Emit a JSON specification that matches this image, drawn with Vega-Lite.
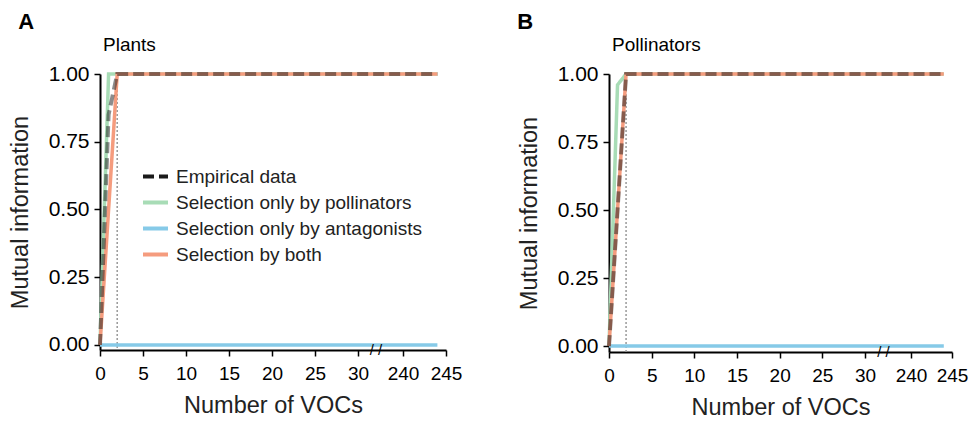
{
  "$schema": "https://vega.github.io/schema/vega-lite/v6.json",
  "padding": {"left": 8, "top": 11, "right": 5, "bottom": 2},
  "config": {
    "font": "Liberation Sans",
    "view": {"stroke": null},
    "axis": {"domainColor": "black", "domainWidth": 2, "tickColor": "black", "tickWidth": 1.5, "tickSize": 6, "labelFontSize": 19, "labelColor": "black", "titleFontSize": 23.5, "titleFontWeight": "normal", "titleColor": "#222", "grid": false, "labelFont": "Liberation Sans", "titleFont": "Liberation Sans"}
  },
  "datasets": {
    "plants": [
      {"series": "Empirical data", "voc": 0, "mi": 0}, {"series": "Empirical data", "voc": 1, "mi": 0.85}, {"series": "Empirical data", "voc": 2, "mi": 1}, {"series": "Empirical data", "voc": 3, "mi": 1}, {"series": "Empirical data", "voc": 4, "mi": 1}, {"series": "Empirical data", "voc": 5, "mi": 1}, {"series": "Empirical data", "voc": 10, "mi": 1}, {"series": "Empirical data", "voc": 20, "mi": 1}, {"series": "Empirical data", "voc": 30, "mi": 1}, {"series": "Empirical data", "voc": 240, "mi": 1}, {"series": "Empirical data", "voc": 244, "mi": 1},
      {"series": "Selection only by pollinators", "voc": 0, "mi": 0}, {"series": "Selection only by pollinators", "voc": 1, "mi": 1}, {"series": "Selection only by pollinators", "voc": 2, "mi": 1}, {"series": "Selection only by pollinators", "voc": 3, "mi": 1}, {"series": "Selection only by pollinators", "voc": 4, "mi": 1}, {"series": "Selection only by pollinators", "voc": 5, "mi": 1}, {"series": "Selection only by pollinators", "voc": 10, "mi": 1}, {"series": "Selection only by pollinators", "voc": 20, "mi": 1}, {"series": "Selection only by pollinators", "voc": 30, "mi": 1}, {"series": "Selection only by pollinators", "voc": 240, "mi": 1}, {"series": "Selection only by pollinators", "voc": 244, "mi": 1},
      {"series": "Selection only by antagonists", "voc": 0, "mi": 0}, {"series": "Selection only by antagonists", "voc": 1, "mi": 0}, {"series": "Selection only by antagonists", "voc": 2, "mi": 0}, {"series": "Selection only by antagonists", "voc": 3, "mi": 0}, {"series": "Selection only by antagonists", "voc": 4, "mi": 0}, {"series": "Selection only by antagonists", "voc": 5, "mi": 0}, {"series": "Selection only by antagonists", "voc": 10, "mi": 0}, {"series": "Selection only by antagonists", "voc": 20, "mi": 0}, {"series": "Selection only by antagonists", "voc": 30, "mi": 0}, {"series": "Selection only by antagonists", "voc": 240, "mi": 0}, {"series": "Selection only by antagonists", "voc": 244, "mi": 0},
      {"series": "Selection by both", "voc": 0, "mi": 0}, {"series": "Selection by both", "voc": 1, "mi": 0.5}, {"series": "Selection by both", "voc": 2, "mi": 1}, {"series": "Selection by both", "voc": 3, "mi": 1}, {"series": "Selection by both", "voc": 4, "mi": 1}, {"series": "Selection by both", "voc": 5, "mi": 1}, {"series": "Selection by both", "voc": 10, "mi": 1}, {"series": "Selection by both", "voc": 20, "mi": 1}, {"series": "Selection by both", "voc": 30, "mi": 1}, {"series": "Selection by both", "voc": 240, "mi": 1}, {"series": "Selection by both", "voc": 244, "mi": 1}
    ],
    "pollinators": [
      {"series": "Empirical data", "voc": 0, "mi": 0}, {"series": "Empirical data", "voc": 1, "mi": 0.5}, {"series": "Empirical data", "voc": 2, "mi": 1}, {"series": "Empirical data", "voc": 3, "mi": 1}, {"series": "Empirical data", "voc": 4, "mi": 1}, {"series": "Empirical data", "voc": 5, "mi": 1}, {"series": "Empirical data", "voc": 10, "mi": 1}, {"series": "Empirical data", "voc": 20, "mi": 1}, {"series": "Empirical data", "voc": 30, "mi": 1}, {"series": "Empirical data", "voc": 240, "mi": 1}, {"series": "Empirical data", "voc": 244, "mi": 1},
      {"series": "Selection only by pollinators", "voc": 0, "mi": 0}, {"series": "Selection only by pollinators", "voc": 1, "mi": 0.96}, {"series": "Selection only by pollinators", "voc": 2, "mi": 1}, {"series": "Selection only by pollinators", "voc": 3, "mi": 1}, {"series": "Selection only by pollinators", "voc": 4, "mi": 1}, {"series": "Selection only by pollinators", "voc": 5, "mi": 1}, {"series": "Selection only by pollinators", "voc": 10, "mi": 1}, {"series": "Selection only by pollinators", "voc": 20, "mi": 1}, {"series": "Selection only by pollinators", "voc": 30, "mi": 1}, {"series": "Selection only by pollinators", "voc": 240, "mi": 1}, {"series": "Selection only by pollinators", "voc": 244, "mi": 1},
      {"series": "Selection only by antagonists", "voc": 0, "mi": 0}, {"series": "Selection only by antagonists", "voc": 1, "mi": 0}, {"series": "Selection only by antagonists", "voc": 2, "mi": 0}, {"series": "Selection only by antagonists", "voc": 3, "mi": 0}, {"series": "Selection only by antagonists", "voc": 4, "mi": 0}, {"series": "Selection only by antagonists", "voc": 5, "mi": 0}, {"series": "Selection only by antagonists", "voc": 10, "mi": 0}, {"series": "Selection only by antagonists", "voc": 20, "mi": 0}, {"series": "Selection only by antagonists", "voc": 30, "mi": 0}, {"series": "Selection only by antagonists", "voc": 240, "mi": 0}, {"series": "Selection only by antagonists", "voc": 244, "mi": 0},
      {"series": "Selection by both", "voc": 0, "mi": 0}, {"series": "Selection by both", "voc": 1, "mi": 0.5}, {"series": "Selection by both", "voc": 2, "mi": 1}, {"series": "Selection by both", "voc": 3, "mi": 1}, {"series": "Selection by both", "voc": 4, "mi": 1}, {"series": "Selection by both", "voc": 5, "mi": 1}, {"series": "Selection by both", "voc": 10, "mi": 1}, {"series": "Selection by both", "voc": 20, "mi": 1}, {"series": "Selection by both", "voc": 30, "mi": 1}, {"series": "Selection by both", "voc": 240, "mi": 1}, {"series": "Selection by both", "voc": 244, "mi": 1}
    ],
    "threshold": [{"voc": 2}],
    "axisbreak": [{"mark": "/ /"}]
  },
  "spacing": 55,
  "resolve": {"legend": {"color": "independent", "strokeDash": "independent"}},
  "hconcat": [
    {
      "title": {"text": "A", "anchor": "start", "frame": "bounds", "fontSize": 22, "fontWeight": "bold", "color": "black", "offset": 2, "dx": 10},
      "resolve": {"legend": {"color": "independent", "strokeDash": "independent"}},
      "vconcat": [
        {
          "width": 346, "height": 276,
          "title": {"text": "Plants", "anchor": "start", "frame": "group", "fontSize": 19, "fontWeight": "normal", "color": "black", "offset": 8, "dx": 3},
          "layer": [
            {
              "data": {"name": "threshold"},
              "mark": {"type": "rule", "stroke": "#999999", "strokeDash": [2, 2], "strokeWidth": 1.5},
              "encoding": {"x": {"field": "voc", "type": "quantitative", "scale": {"domain": [0, 30, 240, 245], "range": [0, 258, 303, 346], "nice": false, "zero": false}}}
            },
            {
              "data": {"name": "plants"},
              "transform": [{"filter": "datum.series !== 'Empirical data'"}],
              "mark": {"type": "line", "strokeWidth": 3.5},
              "encoding": {
                "x": {"field": "voc", "type": "quantitative", "scale": {"domain": [0, 30, 240, 245], "range": [0, 258, 303, 346], "nice": false, "zero": false}, "axis": {"values": [0, 5, 10, 15, 20, 25, 30, 240, 245], "title": "Number of VOCs", "labelPadding": 8, "titlePadding": 10, "labelFlush": false}},
                "y": {"field": "mi", "type": "quantitative", "scale": {"domain": [-0.0185, 1], "nice": false, "zero": false}, "axis": {"values": [0, 0.25, 0.5, 0.75, 1], "format": ".2f", "title": "Mutual information", "labelFontSize": 21, "labelPadding": 5, "titlePadding": 16}},
                "color": {"field": "series", "type": "nominal", "scale": {"domain": ["Empirical data", "Selection only by pollinators", "Selection only by antagonists", "Selection by both"], "range": ["#1a1a1a", "#a8dcb6", "#86cae8", "#f59c7e"]}, "legend": {"orient": "none", "legendX": 41, "legendY": 88, "title": null, "labelFontSize": 19, "labelColor": "#222", "labelLimit": 0, "symbolType": "stroke", "symbolSize": 625, "symbolStrokeWidth": 4, "rowPadding": 1, "labelOffset": 6, "padding": 0}},
                "strokeDash": {"field": "series", "type": "nominal", "scale": {"domain": ["Empirical data", "Selection only by pollinators", "Selection only by antagonists", "Selection by both"], "range": [[11, 5], [1, 0], [1, 0], [1, 0]]}, "legend": {"orient": "none", "legendX": 41, "legendY": 88, "title": null, "labelFontSize": 19, "labelColor": "#222", "labelLimit": 0, "symbolType": "stroke", "symbolSize": 625, "symbolStrokeWidth": 4, "rowPadding": 1, "labelOffset": 6, "padding": 0}}
              }
            },
            {
              "data": {"name": "plants"},
              "transform": [{"filter": "datum.series === 'Empirical data'"}],
              "mark": {"type": "line", "strokeWidth": 4, "strokeOpacity": 0.5},
              "encoding": {
                "x": {"field": "voc", "type": "quantitative"},
                "y": {"field": "mi", "type": "quantitative"},
                "color": {"field": "series", "type": "nominal"},
                "strokeDash": {"field": "series", "type": "nominal"}
              }
            },
            {
              "data": {"name": "axisbreak"},
              "mark": {"type": "text", "fontSize": 15, "color": "black", "baseline": "middle", "align": "center"},
              "encoding": {"text": {"field": "mark"}, "x": {"datum": 114, "type": "quantitative"}, "y": {"datum": -0.0185, "type": "quantitative"}}
            }
          ]
        }
      ]
    },
    {
      "title": {"text": "B", "anchor": "start", "frame": "bounds", "fontSize": 22, "fontWeight": "bold", "color": "black", "offset": 2, "dx": 0},
      "resolve": {"legend": {"color": "independent", "strokeDash": "independent"}},
      "vconcat": [
        {
          "width": 343, "height": 278,
          "title": {"text": "Pollinators", "anchor": "start", "frame": "group", "fontSize": 19, "fontWeight": "normal", "color": "black", "offset": 8, "dx": 3},
          "layer": [
            {
              "data": {"name": "threshold"},
              "mark": {"type": "rule", "stroke": "#999999", "strokeDash": [2, 2], "strokeWidth": 1.5},
              "encoding": {"x": {"field": "voc", "type": "quantitative", "scale": {"domain": [0, 30, 240, 245], "range": [0, 256, 302, 343], "nice": false, "zero": false}}}
            },
            {
              "data": {"name": "pollinators"},
              "transform": [{"filter": "datum.series !== 'Empirical data'"}],
              "mark": {"type": "line", "strokeWidth": 3.5},
              "encoding": {
                "x": {"field": "voc", "type": "quantitative", "scale": {"domain": [0, 30, 240, 245], "range": [0, 256, 302, 343], "nice": false, "zero": false}, "axis": {"values": [0, 5, 10, 15, 20, 25, 30, 240, 245], "title": "Number of VOCs", "labelPadding": 8, "titlePadding": 10, "labelFlush": false}},
                "y": {"field": "mi", "type": "quantitative", "scale": {"domain": [-0.022, 1], "nice": false, "zero": false}, "axis": {"values": [0, 0.25, 0.5, 0.75, 1], "format": ".2f", "title": "Mutual information", "labelFontSize": 21, "labelPadding": 5, "titlePadding": 16}},
                "color": {"field": "series", "type": "nominal", "scale": {"domain": ["Empirical data", "Selection only by pollinators", "Selection only by antagonists", "Selection by both"], "range": ["#1a1a1a", "#a8dcb6", "#86cae8", "#f59c7e"]}, "legend": null},
                "strokeDash": {"field": "series", "type": "nominal", "scale": {"domain": ["Empirical data", "Selection only by pollinators", "Selection only by antagonists", "Selection by both"], "range": [[11, 5], [1, 0], [1, 0], [1, 0]]}, "legend": null}
              }
            },
            {
              "data": {"name": "pollinators"},
              "transform": [{"filter": "datum.series === 'Empirical data'"}],
              "mark": {"type": "line", "strokeWidth": 4, "strokeOpacity": 0.5},
              "encoding": {
                "x": {"field": "voc", "type": "quantitative"},
                "y": {"field": "mi", "type": "quantitative"},
                "color": {"field": "series", "type": "nominal", "legend": null},
                "strokeDash": {"field": "series", "type": "nominal", "legend": null}
              }
            },
            {
              "data": {"name": "axisbreak"},
              "mark": {"type": "text", "fontSize": 15, "color": "black", "baseline": "middle", "align": "center"},
              "encoding": {"text": {"field": "mark"}, "x": {"datum": 114, "type": "quantitative"}, "y": {"datum": -0.022, "type": "quantitative"}}
            }
          ]
        }
      ]
    }
  ]
}
